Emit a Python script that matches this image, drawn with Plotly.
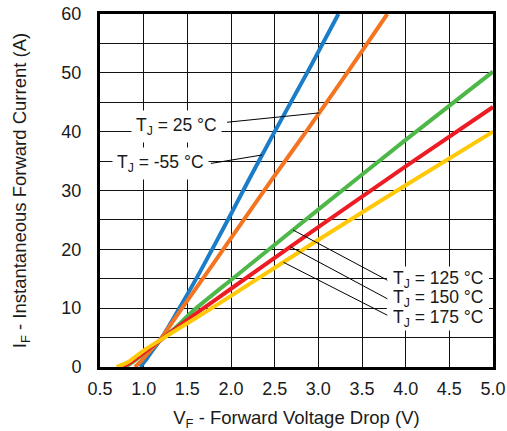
import numpy as np
import plotly.graph_objects as go

# ---- data ----
V_NEG55 = [0.96, 1.03, 1.10, 1.17, 1.25, 1.44, 1.65, 2.00, 2.20, 2.50, 2.89, 3.23]
I_NEG55 = [0.0, 1.3, 2.8, 4.2, 6.0, 10.8, 16.3, 26.0, 31.7, 40.0, 50.5, 60.0]

V_25 = [0.90, 0.97, 1.04, 1.10, 1.17, 1.25, 1.42, 1.80, 2.455, 2.86, 3.33, 3.79]
I_25 = [0.0, 1.0, 2.2, 3.2, 4.3, 5.9, 9.6, 17.6, 31.6, 40.0, 50.0, 60.0]

V_125 = [0.79, 0.86, 0.94, 1.02, 1.10, 1.17, 1.35, 1.57, 2.00, 3.02, 4.00, 5.00]
I_125 = [0.0, 0.7, 1.6, 2.6, 3.5, 4.3, 6.5, 9.6, 14.8, 27.0, 38.6, 50.2]

V_150 = [0.75, 0.82, 0.90, 0.98, 1.07, 1.17, 1.30, 1.646, 2.00, 3.02, 4.00, 5.00]
I_150 = [0.0, 0.5, 1.3, 2.2, 3.2, 4.3, 5.8, 9.6, 13.3, 24.0, 34.1, 44.2]

V_175 = [0.69, 0.76, 0.84, 0.93, 1.03, 1.17, 1.30, 1.78, 2.00, 3.02, 4.00, 5.00]
I_175 = [0.0, 0.4, 1.0, 2.0, 3.1, 4.4, 5.6, 10.0, 12.1, 21.8, 30.9, 40.0]

X_TICKS = [0.5, 1.0, 1.5, 2.0, 2.5, 3.0, 3.5, 4.0, 4.5, 5.0]
Y_TICKS = [0, 10, 20, 30, 40, 50, 60]

LABELS = ["T<sub>J</sub> = -55 °C", "T<sub>J</sub> = 25 °C", "T<sub>J</sub> = 125 °C",
          "T<sub>J</sub> = 150 °C", "T<sub>J</sub> = 175 °C"]
# ---- styling ----
COLORS = ["#1B7DC8", "#F47521", "#4DB848", "#ED1C24", "#FFC907"]
FONT = "Liberation Sans, Arial, sans-serif"
TXT = "#1a1a1a"

series = [(V_NEG55, I_NEG55), (V_25, I_25), (V_125, I_125), (V_150, I_150), (V_175, I_175)]

fig = go.Figure()
for (vx, iy), col in zip(series, COLORS):
    fig.add_trace(go.Scatter(x=vx, y=iy, mode="lines",
                             line=dict(color=col, width=4, shape="spline", smoothing=0.6),
                             showlegend=False, hoverinfo="skip"))

# label placement: text x, text y, xanchor, leader start x/y, head voltage on curve, own white box
label_pos = [
    (1.75, 34.6, "right", 1.77, 34.6, 2.357, True),
    (1.90, 40.9, "right", 1.955, 41.6, 3.01, True),
    (3.80, 14.9, "left", 3.79, 14.75, 2.71, False),
    (3.80, 11.6, "left", 3.79, 11.6, 2.68, False),
    (3.80, 8.3, "left", 3.79, 8.8, 2.60, False),
]

# shared white backing behind the three right-hand labels (hides the grid there)
shapes = [dict(type="rect", xref="x", yref="y", x0=3.785, x1=4.955, y0=6.2, y1=17.1,
               fillcolor="white", line=dict(width=0), layer="above")]
annotations = []
for (tx, ty, anc, sx, sy, hv, own_bg), (vx, iy), text in zip(label_pos, series, LABELS):
    hy = float(np.interp(hv, vx, iy))
    shapes.append(dict(type="line", xref="x", yref="y", x0=sx, y0=sy, x1=hv, y1=hy,
                       line=dict(color="black", width=1), layer="above"))
    annotations.append(dict(x=tx, y=ty, xref="x", yref="y", text=text, showarrow=False,
                            xanchor=anc, yanchor="middle",
                            bgcolor="white" if own_bg else "rgba(0,0,0,0)", borderpad=4,
                            font=dict(family=FONT, size=17.5, color=TXT)))

fig.update_layout(
    width=507, height=431,
    margin=dict(l=100, r=14, t=14, b=64),
    paper_bgcolor="white", plot_bgcolor="white",
    font=dict(family=FONT, size=18, color=TXT),
    shapes=shapes, annotations=annotations,
    xaxis=dict(range=[0.5, 5.0], tickvals=X_TICKS, tickformat=".1f", automargin=False,
               showgrid=True, gridcolor="#111", gridwidth=1,
               showline=True, linecolor="black", linewidth=3, mirror=True,
               ticks="", ticklabelstandoff=3, zeroline=False,
               tickfont=dict(size=18),
               title=dict(text="V<sub>F</sub> - Forward Voltage Drop (V)", standoff=14,
                          font=dict(size=18.5))),
    yaxis=dict(range=[0, 60], tickvals=Y_TICKS, automargin=False,
               showgrid=True, gridcolor="#111", gridwidth=1,
               minor=dict(dtick=5, showgrid=True, gridcolor="#111", gridwidth=1),
               showline=True, linecolor="black", linewidth=3, mirror=True,
               ticks="", ticklabelstandoff=12, zeroline=False,
               tickfont=dict(size=18),
               title=dict(text="I<sub>F</sub> - Instantaneous Forward Current (A)", standoff=30,
                          font=dict(size=18.5))),
)

# remove the browser's default 8px body margin so the figure sits at the page origin
fig.write_html("out.html", config={"displayModeBar": False},
               post_script="document.body.style.margin='0';document.body.style.overflow='hidden';")
